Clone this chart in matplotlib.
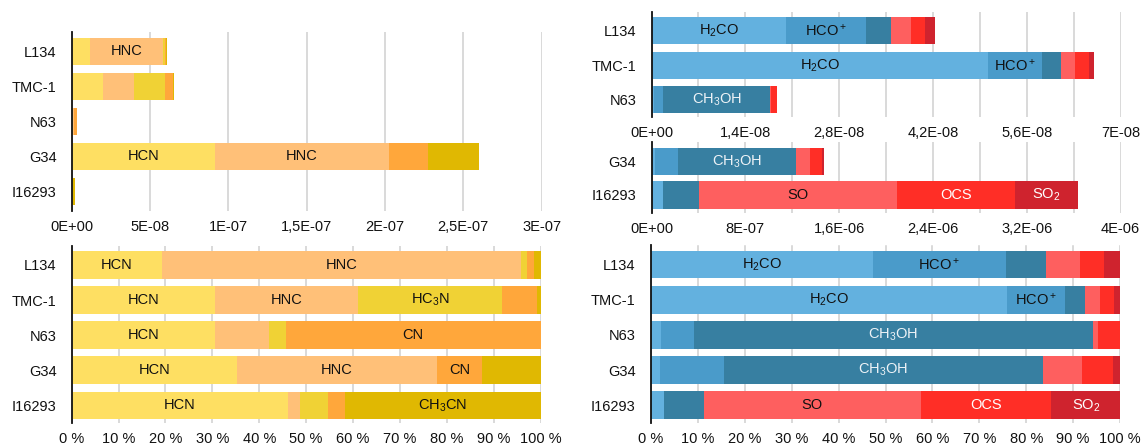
import matplotlib
matplotlib.use("Agg")
import matplotlib.pyplot as plt
import numpy as np

plt.rcParams['font.family'] = ['Liberation Sans', 'DejaVu Sans']
plt.rcParams['mathtext.fontset'] = 'custom'
plt.rcParams['mathtext.rm'] = 'Liberation Sans'

# ---------------- data ----------------
sources = ["L134", "TMC-1", "N63", "G34", "I16293"]

# nitrogen-bearing species (abundances)
n_species = ["HCN", "HNC", "HC3N", "CN", "CH3CN"]
n_labels = ["HCN", "HNC", r"$\mathregular{HC_3N}$", "CN", r"$\mathregular{CH_3CN}$"]
n_colors = ["#FEDF62", "#FFC078", "#F0D235", "#FFA73B", "#E0B802"]
HCN   = [1.18e-8, 1.99e-8, 9.8e-10, 9.14e-8, 8.3e-10]
HNC   = [4.66e-8, 1.99e-8, 3.7e-10, 1.109e-7, 4.3e-11]
HC3N  = [8.5e-10, 2.00e-8, 1.1e-10, 0.0, 1.08e-10]
CN    = [8.5e-10, 4.8e-9, 1.74e-9, 2.52e-8, 6.5e-11]
CH3CN = [8.5e-10, 5.0e-10, 0.0, 3.22e-8, 7.5e-10]

# oxygen / sulphur-bearing species (abundances)
o_species = ["H2CO", "HCO+", "CH3OH", "SO", "OCS", "SO2"]
o_labels = [r"$\mathregular{H_2CO}$", r"$\mathregular{HCO^+}$", r"$\mathregular{CH_3OH}$",
            "SO", "OCS", r"$\mathregular{SO_2}$"]
o_colors = ["#63B1DF", "#4A9BCA", "#377FA1", "#FE5F5F", "#FF2E26", "#CF232E"]
o_text = ["#111111", "#111111", "#EEF3F7", "#111111", "#FFFFFF", "#FFFFFF"]
H2CO  = [2.007e-8, 5.02e-8, 4.1e-10, 2.8e-8, 9.8e-8]
HCOp  = [1.194e-8, 8.06e-9, 1.30e-9, 2.0e-7, 0.0]
CH3OH = [3.68e-9, 2.84e-9, 1.60e-8, 1.001e-6, 3.09e-7]
SO    = [3.05e-9, 2.18e-9, 1.9e-10, 1.22e-7, 1.686e-6]
OCS   = [2.12e-9, 1.98e-9, 8.8e-10, 1.0e-7, 1.010e-6]
SO2   = [1.48e-9, 7.9e-10, 0.0, 2.06e-8, 5.31e-7]

# labelled segments
lab_n_abs = {("L134", "HNC"), ("G34", "HCN"), ("G34", "HNC")}
lab_n_pct = {("L134", "HCN"), ("L134", "HNC"), ("TMC-1", "HCN"), ("TMC-1", "HNC"),
             ("TMC-1", "HC3N"), ("N63", "HCN"), ("N63", "CN"), ("G34", "HCN"),
             ("G34", "HNC"), ("G34", "CN"), ("I16293", "HCN"), ("I16293", "CH3CN")}
lab_o = {("L134", "H2CO"), ("L134", "HCO+"), ("TMC-1", "H2CO"), ("TMC-1", "HCO+"),
         ("N63", "CH3OH"), ("G34", "CH3OH"), ("I16293", "SO"), ("I16293", "OCS"),
         ("I16293", "SO2")}

ticks_tl = ["0E+00", "5E-08", "1E-07", "1,5E-07", "2E-07", "2,5E-07", "3E-07"]
ticks_tr1 = ["0E+00", "1,4E-08", "2,8E-08", "4,2E-08", "5,6E-08", "7E-08"]
ticks_tr2 = ["0E+00", "8E-07", "1,6E-06", "2,4E-06", "3,2E-06", "4E-06"]
ticks_pct = ["0 %", "10 %", "20 %", "30 %", "40 %", "50 %", "60 %", "70 %", "80 %", "90 %", "100 %"]

N = np.array([HCN, HNC, HC3N, CN, CH3CN])
O = np.array([H2CO, HCOp, CH3OH, SO, OCS, SO2])

FS = 10.5
W, H = 1141, 446
fig = plt.figure(figsize=(W / 100, H / 100), dpi=100)


def axes_px(x0, x1, y0, y1):
    return fig.add_axes([x0 / W, 1 - y1 / H, (x1 - x0) / W, (y1 - y0) / H])


def style(ax, xmax, labels, ylim, minor=None):
    ax.set_xlim(0, xmax)
    ax.set_ylim(*ylim)
    ax.set_xticks(np.linspace(0, xmax, len(labels)))
    ax.set_xticklabels(labels)
    if minor:
        ax.set_xticks(np.linspace(0, xmax, minor), minor=True)
    for s in ["top", "right", "bottom"]:
        ax.spines[s].set_visible(False)
    ax.spines["left"].set_linewidth(1.3)
    ax.spines["left"].set_color("#111111")
    ax.tick_params(axis="both", which="both", length=0, labelsize=FS, colors="#111111")
    ax.tick_params(axis="y", pad=11)
    ax.tick_params(axis="x", pad=6.5)
    ax.set_axisbelow(True)
    ax.xaxis.grid(True, which="both", color="#CFCFCF", lw=1.1)


def draw(ax, rows, data, species, labels, colors, textcol, labset, height, pct=False):
    d = data[:, rows].astype(float)
    if pct:
        d = d / d.sum(axis=0) * 100
    y = np.arange(len(rows))
    left = np.zeros(len(rows))
    for k in range(len(species)):
        ax.barh(y, d[k], left=left, height=height, color=colors[k], lw=0)
        for j, r in enumerate(rows):
            if (sources[r], species[k]) in labset:
                ax.text(left[j] + d[k][j] / 2, y[j], labels[k], ha="center", va="center",
                        fontsize=FS, color=textcol[k])
        left = left + d[k]
    ax.set_yticks(y)
    ax.set_yticklabels([sources[r] for r in rows])


n_text = ["#111111"] * 5
all_rows = [0, 1, 2, 3, 4]

# top-left: absolute N species
ax = axes_px(71.7, 541.7, 32.3, 210.7)
draw(ax, all_rows, N, n_species, n_labels, n_colors, n_text, lab_n_abs, 0.78)
style(ax, 3e-7, ticks_tl, (4.55, -0.54))

# bottom-left: percentages N species
ax = axes_px(71.7, 540.5, 246, 423.3)
draw(ax, all_rows, N, n_species, n_labels, n_colors, n_text, lab_n_pct, 0.79, pct=True)
style(ax, 100, ticks_pct, (4.51, -0.54))

# top-right upper: L134, TMC-1, N63
ax = axes_px(651.5, 1120.5, 12.3, 117.3)
draw(ax, [0, 1, 2], O, o_species, o_labels, o_colors, o_text, lab_o, 0.78)
style(ax, 7e-8, ticks_tr1, (2.5, -0.53), minor=11)

# top-right lower: G34, I16293
ax = axes_px(651.5, 1120.5, 142.3, 213.3)
draw(ax, [3, 4], O, o_species, o_labels, o_colors, o_text, lab_o, 0.82)
style(ax, 4e-6, ticks_tr2, (1.55, -0.57), minor=11)

# bottom-right: percentages O species
ax = axes_px(651, 1120, 245.5, 423.3)
draw(ax, all_rows, O, o_species, o_labels, o_colors, o_text, lab_o, 0.79, pct=True)
style(ax, 100, ticks_pct, (4.51, -0.54))

fig.savefig("out.png", dpi=100)
